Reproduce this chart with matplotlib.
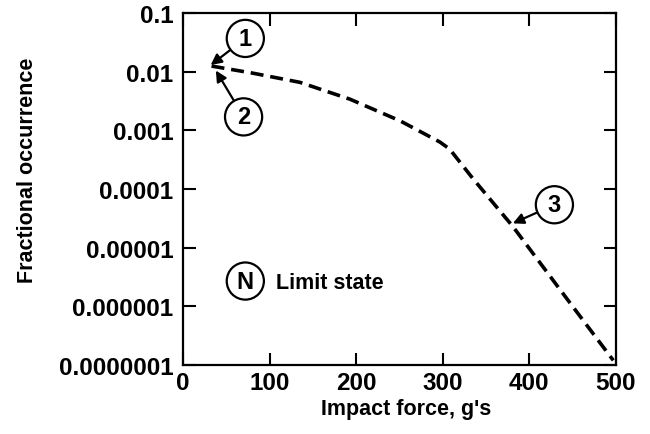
import matplotlib.pyplot as plt

# Curve
impact_force = [33, 80, 135, 193, 251, 297, 308, 335, 381, 450, 497]
fraction = [1.25e-2, 9.5e-3, 6.6e-3, 3.4e-3, 1.45e-3, 6.3e-4, 4.8e-4, 1.5e-4, 2.3e-5, 1.0e-6, 1.2e-7]

y_ticks = [1e-7, 1e-6, 1e-5, 1e-4, 1e-3, 1e-2, 1e-1]
y_labels = ['0.0000001', '0.000001', '0.00001', '0.0001', '0.001', '0.01', '0.1']
x_ticks = [0, 100, 200, 300, 400, 500]

plt.rcParams['font.family'] = ['Liberation Sans', 'DejaVu Sans']
plt.rcParams['font.weight'] = 'bold'

fig = plt.figure(figsize=(6.5, 4.35), dpi=100)
ax = fig.add_axes([0.2815, 0.1586, 0.666, 0.809])

ax.plot(impact_force, fraction, color='black', linewidth=2.6, linestyle=(0, (3.6, 1.9)))

ax.set_yscale('log')
ax.set_xlim(0, 500)
ax.set_ylim(1e-7, 1e-1)
ax.set_yticks(y_ticks)
ax.set_yticklabels(y_labels)
ax.minorticks_off()
ax.set_xticks(x_ticks)

ax.tick_params(direction='in', length=9, width=1.5, top=True, right=True, labelsize=17.5)
ax.tick_params(axis='y', pad=7)
ax.tick_params(axis='x', pad=4)
for s in ax.spines.values():
    s.set_linewidth(1.6)

ax.set_ylabel('Fractional occurrence', fontsize=15.5, fontweight='bold')
ax.yaxis.set_label_coords(-0.335, 0.557)
ax.set_xlabel("Impact force, g's", fontsize=15.5, fontweight='bold')
ax.xaxis.set_label_coords(0.515, -0.095)

circ = dict(boxstyle='circle,pad=0.3', fc='white', ec='black', lw=1.6)
arrow = dict(arrowstyle='-|>', color='black', lw=1.6, mutation_scale=16, shrinkA=0, shrinkB=0)

ax.annotate('1', xy=(32, 1.3e-2), xytext=(72, 3.7e-2), fontsize=17, ha='center', va='center',
            bbox=circ, arrowprops=arrow)
ax.annotate('2', xy=(38, 1.05e-2), xytext=(70, 1.7e-3), fontsize=17, ha='center', va='center',
            bbox=circ, arrowprops=arrow)
ax.annotate('3', xy=(381, 2.6e-5), xytext=(429, 5.4e-5), fontsize=17, ha='center', va='center',
            bbox=circ, arrowprops=arrow)
ax.text(72, 2.7e-6, 'N', fontsize=17, ha='center', va='center', bbox=circ)
ax.text(108, 2.6e-6, 'Limit state', fontsize=15.5, fontweight='bold', ha='left', va='center')

fig.savefig('out.png', dpi=100)
